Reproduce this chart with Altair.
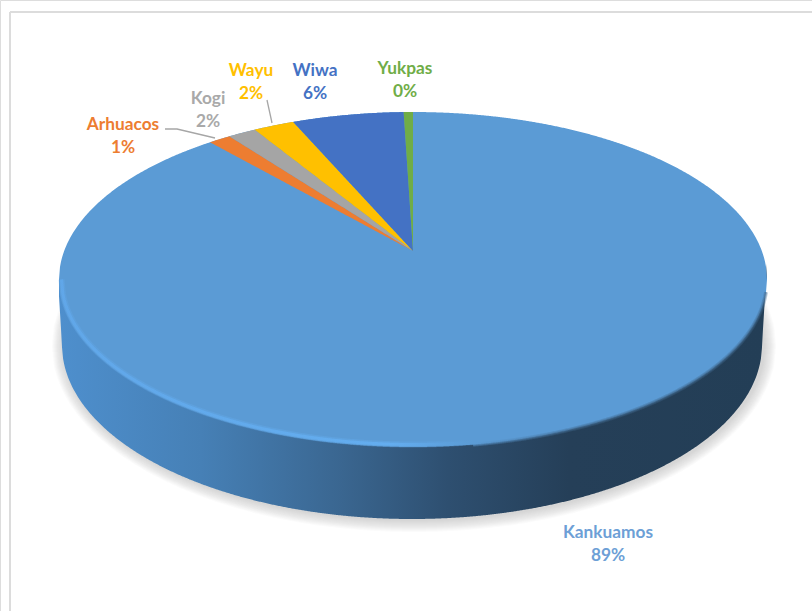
import math
import numpy as np
import pandas as pd
import altair as alt

# Share of each people, in percent, clockwise from the top of the disc
categories = ["Kankuamos", "Arhuacos", "Kogi", "Wayu", "Wiwa", "Yukpas"]
shares = [88.6, 1.2, 1.5, 2.2, 6.0, 0.5]
colors = ["#5b9bd5", "#ed7d31", "#a5a5a5", "#ffc000", "#4472c4", "#70ad47"]
label_colors = ["#6d9fd6", "#ed7d31", "#a9a9a9", "#ffc000", "#4472c4", "#70ad47"]

W, H = 812, 611
CX, CY = 413.0, 251.0   # apex of the slices on the top face
RX, RY, K = 348.8, 162.6, 0.17   # perspective disc


def project(theta_deg):
    """Project a point on the disc rim, angle clockwise from the top."""
    t = np.radians(theta_deg)
    w = 1 + K * np.cos(t)
    return CX + RX * np.sin(t) / w, CY - RY * np.cos(t) / w


def ellipse_y(x, cx, cy, a, b):
    d = np.clip(1 - ((x - cx) / a) ** 2, 0, 1)
    return cy - b * np.sqrt(d), cy + b * np.sqrt(d)


# Outline of the projected rim
FACE = dict(cx=413.0, cy=279.5, a=354.0, b=167.5)
FLOOR = dict(cx=412.0, cy=345.0, a=350.0, b=174.0)
xs_face = np.linspace(FACE["cx"] - FACE["a"], FACE["cx"] + FACE["a"], 700)


def slice_rows(name, start, end):
    """Rows of an x/y/y2 band for a slice lying left of the apex."""
    xa, ya = project(start)
    xb, yb = project(end)
    grid = np.unique(np.concatenate([np.linspace(xa, CX, 120), [xb]]))
    rows = []
    for x in grid:
        top = ellipse_y(x, **FACE)[0]
        low = ya + (x - xa) / (CX - xa) * (CY - ya)
        if x > xb:
            top = yb + (x - xb) / (CX - xb) * (CY - yb)
        rows.append({"slice": name, "x": float(x), "y": float(top), "y2": float(low)})
    return rows


X = alt.X("x:Q", scale=alt.Scale(domain=[0, W]), axis=None)
Y = alt.Y("y:Q", scale=alt.Scale(domain=[H, 0]), axis=None)
Y2 = alt.Y2("y2:Q")

# Soft shadow on the floor: stacked translucent ellipses
shadow_rows = []
for i, grow in enumerate(range(12, 0, -1)):
    a, b = 350 + grow, 174 + grow
    for x in np.linspace(414 - a, 414 + a, 400):
        u, d = ellipse_y(x, 414, 346, a, b)
        shadow_rows.append({"ring": i, "x": float(x), "y": float(u), "y2": float(d)})
shadow = (
    alt.Chart(pd.DataFrame(shadow_rows))
    .mark_area(color="#b5b0aa", opacity=0.05, interpolate="monotone")
    .encode(x=X, y=Y, y2=Y2, detail="ring:N")
)

# Curved wall of the disc, lit from the left
wall_x = np.linspace(59, 767, 700)
wall_rows = []
for x in wall_x:
    low = ellipse_y(x, **FLOOR)[1]
    if abs(x - FLOOR["cx"]) >= FLOOR["a"]:
        low = 280 + (FLOOR["a"] + 4 - abs(x - FLOOR["cx"])) / 4 * 65
    wall_rows.append({"x": float(x), "y": 279.5, "y2": float(low)})
wall = (
    alt.Chart(pd.DataFrame(wall_rows))
    .mark_area(
        fill=alt.Gradient(
            gradient="linear", x1=0, x2=1, y1=0, y2=0,
            stops=[
                alt.GradientStop(offset=0.0, color="#4e8fcd"),
                alt.GradientStop(offset=0.2, color="#4680b6"),
                alt.GradientStop(offset=0.4, color="#3a6690"),
                alt.GradientStop(offset=0.55, color="#2e4f70"),
                alt.GradientStop(offset=0.72, color="#253f58"),
                alt.GradientStop(offset=1.0, color="#233e56"),
            ],
        )
    )
    .encode(x=X, y=Y, y2=Y2)
)

# Largest slice fills the whole face; the others sit on top of it
face_rows = []
for x in xs_face:
    u, d = ellipse_y(x, **FACE)
    face_rows.append({"x": float(x), "y": float(u), "y2": float(d)})
face = (
    alt.Chart(pd.DataFrame(face_rows))
    .mark_area(color=colors[0])
    .encode(x=X, y=Y, y2=Y2)
)

angle = shares[0] * 3.6
slice_data = []
for name, share in zip(categories[1:], shares[1:]):
    slice_data += slice_rows(name, angle, angle + share * 3.6)
    angle += share * 3.6
slices = (
    alt.Chart(pd.DataFrame(slice_data))
    .mark_area()
    .encode(
        x=X, y=Y, y2=Y2,
        color=alt.Color(
            "slice:N",
            scale=alt.Scale(domain=categories, range=colors),
            legend=None,
        ),
    )
)

# Bevel along the near edge of the face: bright on the left, soft and dark on the right
inset = dict(FACE, a=FACE["a"] - 2.5, b=FACE["b"] - 2.5)
light_x = np.linspace(inset["cx"] - inset["a"], inset["cx"] + 60, 300)
light_df = pd.DataFrame({"x": light_x, "y": ellipse_y(light_x, **inset)[1]})
dark_x = np.linspace(FACE["cx"] + 60, FACE["cx"] + FACE["a"] - 1, 300)
dark_df = pd.DataFrame({"x": dark_x, "y": ellipse_y(dark_x, **FACE)[1]})


def bevel(df, stops, width, opacity):
    return (
        alt.Chart(df)
        .mark_line(
            strokeWidth=width,
            opacity=opacity,
            stroke=alt.Gradient(gradient="linear", x1=0, x2=1, y1=0, y2=0, stops=stops),
        )
        .encode(x=X, y=Y)
    )


light_stops = [
    alt.GradientStop(offset=0.0, color="#62aaee"),
    alt.GradientStop(offset=0.8, color="#66b2f6"),
    alt.GradientStop(offset=1.0, color="#5b9bd5"),
]
dark_stops = [
    alt.GradientStop(offset=0.0, color="#5b9bd5"),
    alt.GradientStop(offset=0.35, color="#40698f"),
    alt.GradientStop(offset=1.0, color="#40698f"),
]
bevels = [
    bevel(light_df, light_stops, 6, 0.3),
    bevel(light_df, light_stops, 3, 0.7),
    bevel(dark_df, dark_stops, 4, 0.35),
    bevel(dark_df, dark_stops, 2, 0.5),
]

# Leader lines from the outer labels
leader_df = pd.DataFrame(
    [
        {"who": "Arhuacos", "step": 0, "x": 165, "y": 129},
        {"who": "Arhuacos", "step": 1, "x": 177, "y": 129},
        {"who": "Arhuacos", "step": 2, "x": 215, "y": 138},
        {"who": "Wayu", "step": 0, "x": 267, "y": 100},
        {"who": "Wayu", "step": 1, "x": 272, "y": 123},
    ]
)
leaders = (
    alt.Chart(leader_df)
    .mark_line(color="#a6a6a6", strokeWidth=1.3)
    .encode(x=X, y=Y, detail="who:N", order="step:Q")
)

# Two-line data labels: name above, rounded percentage below
label_xy = {
    "Kankuamos": (608, 533),
    "Arhuacos": (123, 125),
    "Kogi": (208, 99),
    "Wayu": (251, 71),
    "Wiwa": (315, 71),
    "Yukpas": (405, 69),
}
label_rows = []
for name, share, col in zip(categories, shares, label_colors):
    lx, ly = label_xy[name]
    label_rows.append({"text": name, "x": lx, "y": ly, "col": col})
    label_rows.append({"text": f"{share:.0f}%", "x": lx, "y": ly + 22.5, "col": col})
labels = (
    alt.Chart(pd.DataFrame(label_rows))
    .mark_text(font="Lato", fontWeight="bold", fontSize=17.3, align="center", baseline="middle")
    .encode(x=X, y=Y, text="text:N", color=alt.Color("col:N", scale=None))
)

# Chart frame, only its top and left edges are in view
frame_df = pd.DataFrame(
    [
        {"x": 10, "y": 12, "edge": "top", "step": 0},
        {"x": W, "y": 12, "edge": "top", "step": 1},
        {"x": 10, "y": 12, "edge": "left", "step": 0},
        {"x": 10, "y": H, "edge": "left", "step": 1},
    ]
)
frame = (
    alt.Chart(frame_df)
    .mark_line(color="#dcdcdc", strokeWidth=2)
    .encode(x=X, y=Y, detail="edge:N", order="step:Q")
)

chart = (
    alt.layer(frame, shadow, wall, face, slices, *bevels, leaders, labels)
    .properties(width=W, height=H, padding=0, autosize=alt.AutoSizeParams(type="none"))
    .configure_view(stroke=None)
    .configure(background="#ffffff")
)

chart.save("out.html", embed_options={"renderer": "svg", "actions": False})
